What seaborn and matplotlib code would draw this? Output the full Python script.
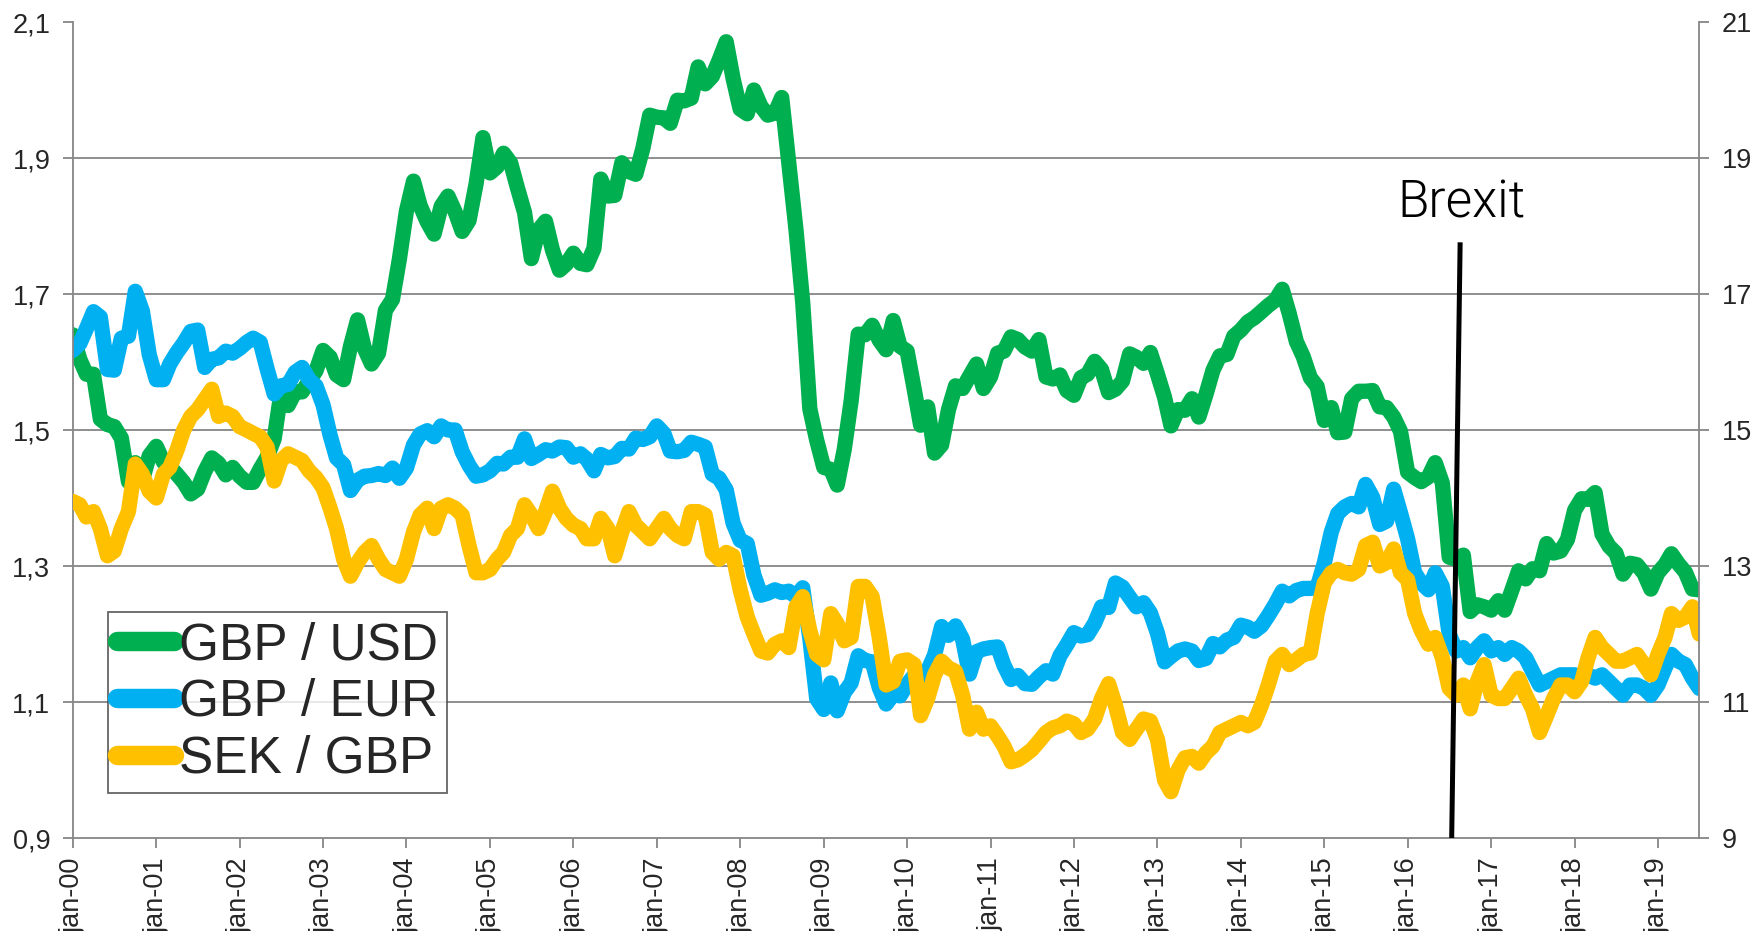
import numpy as np
import pandas as pd
import matplotlib.pyplot as plt
import matplotlib.dates as mdates
import seaborn as sns
from matplotlib.lines import Line2D

# monthly averages, jan 2000 - jul 2019
dates = pd.date_range("2000-01-01", "2019-07-01", freq="MS")

gbp_usd = [
    1.640, 1.604, 1.582, 1.582, 1.516, 1.508, 1.505, 1.488, 1.424, 1.452, 1.426, 1.462,
    1.476, 1.453, 1.446, 1.435, 1.423, 1.406, 1.413, 1.439, 1.459, 1.451, 1.434, 1.445,
    1.432, 1.423, 1.423, 1.443, 1.460, 1.487, 1.555, 1.536, 1.556, 1.556, 1.572, 1.587,
    1.617, 1.607, 1.581, 1.574, 1.623, 1.662, 1.620, 1.597, 1.613, 1.676, 1.692, 1.751,
    1.822, 1.866, 1.830, 1.806, 1.788, 1.829, 1.844, 1.821, 1.792, 1.808, 1.862, 1.930,
    1.878, 1.887, 1.907, 1.893, 1.856, 1.820, 1.752, 1.794, 1.807, 1.765, 1.735, 1.744,
    1.760, 1.745, 1.743, 1.767, 1.869, 1.844, 1.845, 1.893, 1.880, 1.876, 1.914, 1.963,
    1.960, 1.959, 1.951, 1.985, 1.984, 1.988, 2.034, 2.009, 2.020, 2.044, 2.071, 2.017,
    1.972, 1.965, 2.000, 1.976, 1.963, 1.966, 1.989, 1.892, 1.796, 1.687, 1.531, 1.485,
    1.445, 1.442, 1.419, 1.472, 1.543, 1.641, 1.640, 1.654, 1.632, 1.618, 1.661, 1.623,
    1.616, 1.560, 1.507, 1.534, 1.466, 1.478, 1.530, 1.565, 1.561, 1.579, 1.597, 1.561,
    1.578, 1.613, 1.616, 1.637, 1.633, 1.622, 1.616, 1.633, 1.578, 1.575, 1.581, 1.558,
    1.551, 1.577, 1.582, 1.601, 1.589, 1.555, 1.560, 1.572, 1.612, 1.607, 1.598, 1.614,
    1.582, 1.548, 1.506, 1.530, 1.529, 1.546, 1.519, 1.552, 1.588, 1.609, 1.611, 1.638,
    1.647, 1.659, 1.665, 1.674, 1.683, 1.691, 1.707, 1.671, 1.630, 1.608, 1.577, 1.564,
    1.514, 1.533, 1.496, 1.497, 1.546, 1.557, 1.557, 1.558, 1.534, 1.533, 1.519, 1.498,
    1.438, 1.430, 1.424, 1.431, 1.452, 1.422, 1.313, 1.310, 1.316, 1.233, 1.243, 1.240,
    1.235, 1.249, 1.235, 1.264, 1.293, 1.281, 1.296, 1.293, 1.333, 1.319, 1.322, 1.339,
    1.382, 1.399, 1.398, 1.408, 1.347, 1.329, 1.319, 1.288, 1.304, 1.302, 1.289, 1.266,
    1.290, 1.302, 1.318, 1.303, 1.291, 1.266, 1.265,
]

gbp_eur = [
    1.617, 1.627, 1.649, 1.674, 1.666, 1.589, 1.588, 1.635, 1.638, 1.704, 1.675, 1.611,
    1.574, 1.574, 1.597, 1.614, 1.628, 1.645, 1.647, 1.592, 1.604, 1.606, 1.616, 1.613,
    1.620, 1.629, 1.635, 1.629, 1.590, 1.553, 1.565, 1.567, 1.585, 1.592, 1.574, 1.565,
    1.537, 1.492, 1.459, 1.449, 1.411, 1.426, 1.432, 1.433, 1.436, 1.433, 1.444, 1.429,
    1.444, 1.478, 1.494, 1.499, 1.490, 1.506, 1.500, 1.500, 1.468, 1.448, 1.432, 1.434,
    1.440, 1.451, 1.450, 1.460, 1.460, 1.487, 1.458, 1.464, 1.471, 1.469, 1.475, 1.474,
    1.460, 1.465, 1.457, 1.440, 1.464, 1.459, 1.461, 1.473, 1.472, 1.488, 1.486, 1.490,
    1.506, 1.495, 1.469, 1.468, 1.470, 1.482, 1.479, 1.475, 1.435, 1.429, 1.412, 1.363,
    1.338, 1.333, 1.287, 1.257, 1.260, 1.265, 1.261, 1.263, 1.255, 1.268, 1.193, 1.105,
    1.089, 1.128, 1.087, 1.114, 1.128, 1.168, 1.161, 1.159, 1.121, 1.097, 1.111, 1.109,
    1.126, 1.139, 1.106, 1.146, 1.169, 1.211, 1.198, 1.212, 1.192, 1.141, 1.174, 1.178,
    1.180, 1.181, 1.154, 1.133, 1.139, 1.127, 1.126, 1.137, 1.146, 1.141, 1.168, 1.184,
    1.202, 1.197, 1.199, 1.216, 1.240, 1.239, 1.275, 1.269, 1.254, 1.240, 1.246, 1.231,
    1.201, 1.159, 1.167, 1.175, 1.178, 1.175, 1.161, 1.164, 1.186, 1.181, 1.191, 1.195,
    1.213, 1.210, 1.204, 1.212, 1.227, 1.244, 1.263, 1.256, 1.264, 1.267, 1.267, 1.268,
    1.304, 1.350, 1.377, 1.387, 1.392, 1.387, 1.420, 1.401, 1.361, 1.366, 1.413, 1.378,
    1.340, 1.290, 1.275, 1.265, 1.290, 1.270, 1.200, 1.175, 1.180, 1.165, 1.180, 1.190,
    1.175, 1.180, 1.170, 1.180, 1.175, 1.165, 1.145, 1.125, 1.130, 1.135, 1.140, 1.140,
    1.140, 1.135, 1.140, 1.135, 1.140, 1.130, 1.120, 1.110, 1.125, 1.125, 1.120, 1.110,
    1.125, 1.150, 1.170, 1.160, 1.155, 1.135, 1.120,
]

sek_gbp = [
    13.95, 13.90, 13.72, 13.80, 13.55, 13.15, 13.22, 13.55, 13.80, 14.50, 14.35, 14.10,
    14.00, 14.35, 14.45, 14.70, 15.00, 15.20, 15.30, 15.45, 15.60, 15.20, 15.25, 15.20,
    15.05, 15.00, 14.95, 14.90, 14.75, 14.25, 14.55, 14.65, 14.60, 14.55, 14.40, 14.30,
    14.15, 13.85, 13.55, 13.10, 12.85, 13.05, 13.20, 13.30, 13.10, 12.95, 12.90, 12.85,
    13.10, 13.50, 13.75, 13.85, 13.55, 13.85, 13.90, 13.85, 13.75, 13.30, 12.90, 12.90,
    12.95, 13.10, 13.20, 13.45, 13.55, 13.90, 13.75, 13.55, 13.80, 14.10, 13.85, 13.70,
    13.60, 13.55, 13.40, 13.40, 13.70, 13.55, 13.15, 13.50, 13.80, 13.60, 13.50, 13.40,
    13.55, 13.70, 13.55, 13.45, 13.40, 13.80, 13.80, 13.75, 13.20, 13.10, 13.20, 13.15,
    12.65, 12.25, 12.00, 11.75, 11.72, 11.85, 11.90, 11.80, 12.40, 12.55, 12.05, 11.70,
    11.62, 12.30, 12.15, 11.90, 11.95, 12.70, 12.70, 12.55, 11.95, 11.25, 11.30, 11.60,
    11.62, 11.55, 10.80, 11.05, 11.40, 11.60, 11.50, 11.45, 11.10, 10.60, 10.85, 10.60,
    10.65, 10.50, 10.35, 10.12, 10.15, 10.22, 10.30, 10.42, 10.55, 10.62, 10.65, 10.72,
    10.68, 10.55, 10.60, 10.75, 11.05, 11.27, 10.95, 10.55, 10.45, 10.60, 10.75, 10.72,
    10.45, 9.85, 9.68, 10.00, 10.18, 10.20, 10.10, 10.25, 10.35, 10.55, 10.60, 10.65,
    10.70, 10.65, 10.70, 10.95, 11.25, 11.60, 11.70, 11.55, 11.62, 11.70, 11.72, 12.30,
    12.75, 12.90, 12.95, 12.90, 12.88, 12.95, 13.30, 13.35, 13.00, 13.05, 13.25, 12.90,
    12.80, 12.30, 12.05, 11.85, 11.95, 11.65, 11.20, 11.10, 11.25, 10.90, 11.30, 11.55,
    11.10, 11.05, 11.05, 11.20, 11.35, 11.10, 10.90, 10.55, 10.80, 11.05, 11.25, 11.25,
    11.15, 11.30, 11.65, 11.95, 11.80, 11.70, 11.60, 11.60, 11.65, 11.70, 11.55, 11.40,
    11.70, 11.95, 12.30, 12.20, 12.25, 12.40, 12.00,
]

labels = ["GBP / USD", "GBP / EUR", "SEK / GBP"]
colors = ["#00B050", "#00B0F0", "#FFC000"]

left_ticks = [0.9, 1.1, 1.3, 1.5, 1.7, 1.9, 2.1]
right_ticks = [9, 11, 13, 15, 17, 19, 21]

brexit_x = [pd.Timestamp("2016-08-18"), pd.Timestamp("2016-07-12")]
brexit_y = [17.76, 9.0]

sns.set_style("white")
plt.rcParams['font.family'] = ['Liberation Sans', 'DejaVu Sans']

GRID = "#868686"
LW = 11

fig = plt.figure(figsize=(17.54, 9.31), dpi=100)
ax = fig.add_axes([72.7 / 1754, 1 - 838 / 931, 1626.6 / 1754, 816 / 931])
ax2 = ax.twinx()

for y in left_ticks[1:-1]:
    ax.axhline(y, color=GRID, lw=1.3, zorder=0)

sns.lineplot(x=dates, y=gbp_usd, ax=ax, color=colors[0], linewidth=LW,
             solid_joinstyle="round", solid_capstyle="round")
sns.lineplot(x=dates, y=gbp_eur, ax=ax, color=colors[1], linewidth=LW,
             solid_joinstyle="round", solid_capstyle="round")
sns.lineplot(x=dates, y=sek_gbp, ax=ax2, color=colors[2], linewidth=LW,
             solid_joinstyle="round", solid_capstyle="round")

# Brexit marker
ax2.plot(brexit_x, brexit_y, color="black", lw=3.6, solid_capstyle="butt", clip_on=False)
ax2.text(pd.Timestamp("2016-08-25"), 18.13, "Brexit", ha="center", va="baseline",
         fontsize=37, color="black", family=["Roboto", "DejaVu Sans"], fontweight=300,
         fontstretch="expanded")

ax.set_xlim(dates[0], dates[-1])
ax.set_ylim(0.9, 2.1)
ax2.set_ylim(9, 21)
ax.set_yticks(left_ticks)
ax.set_yticklabels([f"{v:.1f}".replace(".", ",") for v in left_ticks])
ax2.set_yticks(right_ticks)
ax2.set_yticklabels([str(v) for v in right_ticks])

ax.xaxis.set_major_locator(mdates.YearLocator())
ax.xaxis.set_major_formatter(mdates.DateFormatter("jan-%y"))
ax.set_xlabel("")
ax.set_ylabel("")
ax2.set_ylabel("")

for a in (ax, ax2):
    a.spines["top"].set_visible(False)
    for s in a.spines.values():
        s.set_color(GRID)
        s.set_linewidth(1.3)
ax.spines["right"].set_visible(False)
ax2.spines["left"].set_visible(False)
ax2.spines["bottom"].set_visible(False)

ax.tick_params(axis="y", direction="out", length=7, width=1.3, color=GRID,
               labelsize=19.5, pad=9, left=True)
ax.tick_params(axis="x", direction="out", length=7, width=1.3, color=GRID,
               labelsize=19.5, pad=7, labelrotation=90, bottom=True)
ax2.tick_params(axis="y", direction="out", length=7, width=1.3, color=GRID,
                labelsize=19.5, pad=9, right=True)
ax.grid(False)
ax2.grid(False)

handles = [Line2D([], [], color=c, lw=14, solid_capstyle="round") for c in colors]
leg = ax2.legend(handles, labels, loc="upper left", bbox_to_anchor=(0.0217, 0.277),
                 borderaxespad=0, fontsize=37, frameon=True, fancybox=False,
                 edgecolor="#404040", handlelength=1.1, handletextpad=0.1,
                 labelspacing=0.15, borderpad=0.18)
leg.get_frame().set_linewidth(1.3)

fig.savefig("out.png", dpi=100)
